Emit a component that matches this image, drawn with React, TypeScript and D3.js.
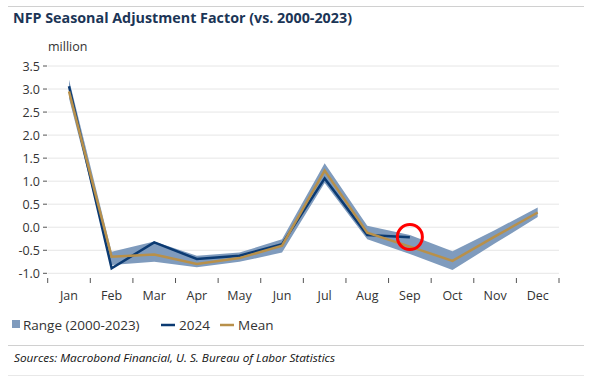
import React from "react";
import * as d3 from "d3";

const months = ["Jan", "Feb", "Mar", "Apr", "May", "Jun", "Jul", "Aug", "Sep", "Oct", "Nov", "Dec"];
const rangeHigh = [3.2, -0.53, -0.31, -0.62, -0.55, -0.26, 1.39, 0.03, -0.17, -0.52, -0.06, 0.43];
const rangeLow = [2.8, -0.82, -0.75, -0.87, -0.75, -0.55, 0.96, -0.26, -0.58, -0.93, -0.35, 0.22];
const meanValues = [2.95, -0.64, -0.59, -0.8, -0.67, -0.4, 1.23, -0.12, -0.42, -0.73, -0.2, 0.32];
const values2024 = [3.06, -0.89, -0.33, -0.69, -0.62, -0.37, 1.06, -0.17, -0.22];
const yTicks = [-1.0, -0.5, 0.0, 0.5, 1.0, 1.5, 2.0, 2.5, 3.0, 3.5];

const NAVY = "#0b3a72";
const GOLD = "#b8904a";
const RANGE = "#7f9bbd";
const FONT = "'Open Sans', Roboto, sans-serif";

export default function App() {
  const W = 594, H = 376;
  const x0 = 47.7, x1 = 559;
  const x = d3.scaleBand<string>().domain(months).range([x0, x1]).padding(0);
  const xc = (i: number) => (x(months[i]) as number) + x.bandwidth() / 2;
  const y = d3.scaleLinear().domain([-1, 3.5]).range([273.3, 66]);

  const area = d3.area<number>()
    .x((_, i) => xc(i))
    .y0((_, i) => y(rangeLow[i]))
    .y1((_, i) => y(rangeHigh[i]));
  const line = d3.line<number>().x((_, i) => xc(i)).y((d) => y(d));

  return (
    <svg width={W} height={H} style={{ position: "absolute", left: 0, top: 0, background: "#fff" }}>
      <line x1={8} x2={584} y1={6.5} y2={6.5} stroke="#d0d0d0" strokeWidth={1} />
      <text x={13} y={23} fontFamily={FONT} fontWeight={700} fontSize={14} fill="#1b3556"
        textLength={339} lengthAdjust="spacingAndGlyphs">
        NFP Seasonal Adjustment Factor (vs. 2000-2023)
      </text>
      <text x={48} y={51} fontFamily={FONT} fontSize={12.5} fill="#333">million</text>
      {yTicks.map((t) => (
        <g key={t}>
          <line x1={x0} x2={x1} y1={y(t)} y2={y(t)} stroke="#e6e6e6" strokeWidth={1} />
          <line x1={43} x2={47} y1={y(t)} y2={y(t)} stroke="#555" strokeWidth={1} />
          <text x={40} y={y(t) + 4.5} textAnchor="end" fontFamily={FONT} fontSize={12.5} fill="#333">
            {t.toFixed(1)}
          </text>
        </g>
      ))}
      {d3.range(months.length + 1).map((i) => {
        const xx = x0 + i * x.bandwidth();
        return <line key={i} x1={xx} x2={xx} y1={278} y2={283} stroke="#555" strokeWidth={1} />;
      })}
      {months.map((m, i) => (
        <text key={m} x={xc(i)} y={300} textAnchor="middle" fontFamily={FONT} fontSize={12.5} fill="#333">
          {m}
        </text>
      ))}
      <path d={area(rangeHigh) || ""} fill={RANGE} />
      <path d={line(values2024) || ""} fill="none" stroke={NAVY} strokeWidth={2.5} strokeLinejoin="miter" />
      <path d={line(meanValues) || ""} fill="none" stroke={GOLD} strokeWidth={2.5} />
      <circle cx={xc(8)} cy={237} r={12.5} fill="none" stroke="#ff0000" strokeWidth={3} />
      <g fontFamily={FONT} fontSize={13.5} fill="#333">
        <rect x={12} y={320} width={8} height={8} fill={RANGE} />
        <text x={23} y={330}>Range (2000-2023)</text>
        <line x1={161} x2={175} y1={325} y2={325} stroke={NAVY} strokeWidth={2.5} />
        <text x={179} y={330}>2024</text>
        <line x1={220} x2={234} y1={325} y2={325} stroke={GOLD} strokeWidth={2.5} />
        <text x={238} y={330}>Mean</text>
      </g>
      <line x1={8} x2={584} y1={345.5} y2={345.5} stroke="#d0d0d0" strokeWidth={1} />
      <text x={14} y={362} fontFamily={FONT} fontStyle="italic" fontSize={11} fill="#111"
        textLength={321} lengthAdjust="spacingAndGlyphs">
        Sources: Macrobond Financial, U. S. Bureau of Labor Statistics
      </text>
      <line x1={8} x2={584} y1={376} y2={376} stroke="#d0d0d0" strokeWidth={1} />
    </svg>
  );
}
